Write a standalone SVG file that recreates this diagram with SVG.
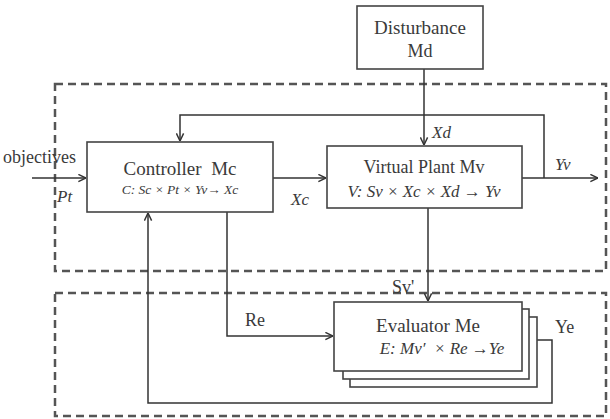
<svg xmlns="http://www.w3.org/2000/svg" width="610" height="419" viewBox="0 0 610 419" font-family="'Liberation Serif', 'DejaVu Serif', serif">
  <defs>
    <marker id="arr" viewBox="0 0 10 10" refX="9.5" refY="5" markerWidth="9" markerHeight="9" markerUnits="userSpaceOnUse" orient="auto">
      <path d="M1,1 L9.5,5 L1,9" fill="none" stroke="#333" stroke-width="1.6"/>
    </marker>
    <style>
      .box { fill: #fff; stroke: #444; stroke-width: 1.6; }
      .zone { fill: none; stroke: #555; stroke-width: 2.5; stroke-dasharray: 8 5; }
      .wire { fill: none; stroke: #333; stroke-width: 1.5; }
      text { font-family: 'Liberation Serif', 'DejaVu Serif', serif; fill: #3a3a3a; font-size: 18px; }
      .it { font-style: italic; font-size: 17px; }
      .mid { text-anchor: middle; }
    </style>
  </defs>
  <rect width="610" height="419" fill="#fff"/>

  <!-- dashed zones -->
  <g id="zones">
    <rect class="zone" x="55" y="84" width="551" height="187"/>
    <rect class="zone" x="55" y="293" width="551" height="123"/>
  </g>

  <!-- connectors -->
  <g id="connectors">
    <path class="wire" d="M32,178 H86" marker-end="url(#arr)"/>
    <path class="wire" d="M273,178 H326" marker-end="url(#arr)"/>
    <path class="wire" d="M424,69 V145" marker-end="url(#arr)"/>
    <path class="wire" d="M522,178 H598" marker-end="url(#arr)"/>
    <path class="wire" d="M544,178 V115 H180 V141" marker-end="url(#arr)"/>
    <path class="wire" d="M428,208 V301" marker-end="url(#arr)"/>
    <path class="wire" d="M227,212 V336 H333" marker-end="url(#arr)"/>
    <path class="wire" d="M522,340 H552 V403 H148 V213" marker-end="url(#arr)"/>
  </g>

  <g id="disturbance">
    <rect class="box" x="357" y="6" width="126" height="63"/>
    <text class="mid" x="420" y="34" style="font-size:19px">Disturbance</text>
    <text class="mid" x="420" y="57">Md</text>
  </g>

  <g id="controller">
    <rect class="box" x="87" y="142" width="186" height="70"/>
    <text class="mid" x="180" y="175" style="font-size:19px">Controller&#160; Mc</text>
    <text class="it mid" x="180" y="194" style="font-size:13.5px">C: Sc × Pt × Yv→ Xc</text>
  </g>

  <g id="plant">
    <rect class="box" x="327" y="146" width="195" height="62"/>
    <text class="mid" x="424" y="173">Virtual Plant Mv</text>
    <text class="it mid" x="424" y="197">V: Sv × Xc × Xd → Yv</text>
  </g>

  <g id="evaluator">
    <rect class="box" x="350" y="317" width="187" height="70"/>
    <rect class="box" x="343" y="309" width="186" height="70"/>
    <rect class="box" x="334" y="302" width="188" height="69"/>
    <text class="mid" x="428" y="332" style="font-size:19px">Evaluator Me</text>
    <text class="it mid" x="442" y="354">E: Mv′&#160; × Re →Ye</text>
  </g>

  <g id="labels">
    <text x="3" y="163">objectives</text>
    <text class="it" x="57" y="202">Pt</text>
    <text class="it" x="291" y="205">Xc</text>
    <text class="it" x="432" y="138">Xd</text>
    <text class="it" x="555" y="170">Yv</text>
    <text x="392" y="293">Sv'</text>
    <text x="245" y="326">Re</text>
    <text x="555" y="333">Ye</text>
  </g>
</svg>
